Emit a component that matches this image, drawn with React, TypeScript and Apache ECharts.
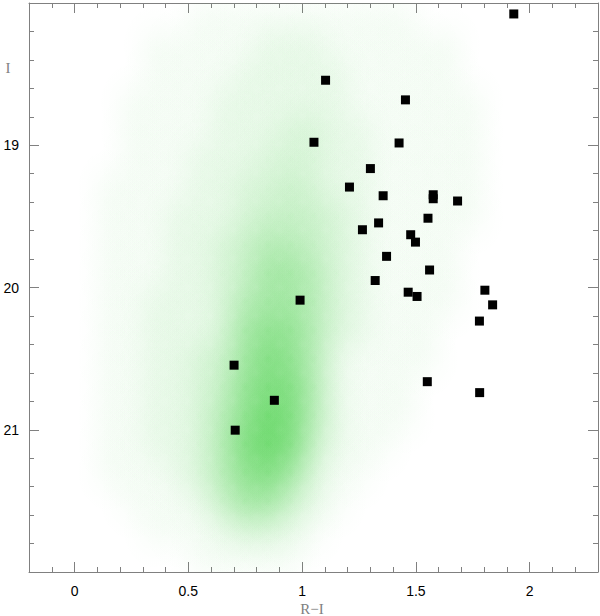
import React, { useEffect, useRef } from 'react';
import * as echarts from 'echarts';

// Black squares: R-I colour and I magnitude
const riColor = [1.930, 1.103, 1.454, 1.052, 1.426, 1.300, 1.208, 1.356, 1.576, 1.576, 1.683, 1.553, 1.336, 1.265, 1.477, 1.498, 1.371, 1.560, 1.321, 1.466, 1.505, 1.803, 0.991, 1.837, 1.779, 1.550, 1.780, 0.701, 0.878, 0.706];
const iMag = [18.077, 18.543, 18.681, 18.979, 18.984, 19.164, 19.294, 19.355, 19.348, 19.376, 19.392, 19.513, 19.546, 19.594, 19.629, 19.681, 19.781, 19.877, 19.951, 20.033, 20.063, 20.019, 20.089, 20.122, 20.236, 20.662, 20.739, 20.546, 20.793, 21.003];

// Axis ticks / labels
const xMajorTicks = [0, 0.5, 1, 1.5, 2];
const yMajorTicks = [19, 20, 21];
const X_MIN = -0.2, X_MAX = 2.3, Y_MIN = 18, Y_MAX = 22;

// Green field-star cloud, read as relative density (0-9) in cells of 0.1 (R-I) x 0.2 (I)
const CELL_DX = 0.1;
const CELL_DY = 0.2;
const cloudXStart = 0.0;
const cloudYStart = 18.0;
const cloudDensity: number[][] = [
  [0, 0, 0, 0, 0, 1, 1, 1, 1, 1, 1, 1, 1, 1, 1, 0, 0, 0, 0, 0], // 18.0
  [0, 0, 0, 1, 1, 1, 1, 1, 2, 2, 2, 1, 1, 1, 1, 1, 1, 0, 0, 0], // 18.2
  [0, 0, 0, 1, 1, 1, 1, 2, 2, 2, 2, 2, 1, 1, 1, 1, 1, 0, 0, 0], // 18.4
  [0, 0, 1, 1, 1, 1, 2, 2, 2, 2, 2, 2, 1, 1, 1, 1, 1, 1, 0, 0], // 18.6
  [0, 0, 1, 1, 1, 1, 2, 2, 2, 3, 3, 2, 2, 1, 1, 1, 1, 1, 0, 0], // 18.8
  [0, 0, 1, 1, 1, 2, 2, 2, 3, 3, 3, 2, 2, 1, 1, 1, 1, 1, 0, 0], // 19.0
  [0, 1, 1, 1, 1, 2, 2, 3, 3, 4, 3, 2, 2, 1, 1, 1, 1, 1, 0, 0], // 19.2
  [0, 1, 1, 1, 2, 2, 2, 3, 4, 4, 4, 3, 2, 1, 1, 1, 1, 1, 0, 0], // 19.4
  [0, 1, 1, 1, 2, 2, 3, 4, 5, 5, 4, 3, 2, 1, 1, 1, 1, 0, 0, 0], // 19.6
  [0, 1, 1, 1, 2, 2, 3, 4, 6, 6, 5, 3, 2, 1, 1, 1, 1, 0, 0, 0], // 19.8
  [0, 1, 1, 2, 2, 2, 3, 5, 6, 6, 5, 3, 2, 1, 1, 1, 1, 0, 0, 0], // 20.0
  [0, 1, 1, 2, 2, 2, 3, 6, 7, 7, 5, 3, 2, 1, 1, 1, 0, 0, 0, 0], // 20.2
  [0, 1, 1, 2, 2, 3, 4, 6, 8, 7, 5, 2, 1, 1, 1, 1, 0, 0, 0, 0], // 20.4
  [0, 1, 1, 2, 2, 3, 4, 7, 8, 8, 5, 2, 1, 1, 1, 0, 0, 0, 0, 0], // 20.6
  [0, 1, 1, 2, 2, 3, 5, 7, 9, 8, 5, 2, 1, 1, 1, 0, 0, 0, 0, 0], // 20.8
  [0, 1, 1, 2, 2, 3, 5, 8, 9, 8, 4, 2, 1, 1, 0, 0, 0, 0, 0, 0], // 21.0
  [0, 1, 1, 1, 2, 3, 5, 7, 8, 6, 3, 1, 1, 0, 0, 0, 0, 0, 0, 0], // 21.2
  [0, 0, 1, 1, 1, 2, 4, 6, 6, 4, 2, 1, 0, 0, 0, 0, 0, 0, 0, 0], // 21.4
  [0, 0, 0, 1, 1, 1, 2, 3, 3, 2, 1, 0, 0, 0, 0, 0, 0, 0, 0, 0], // 21.6
  [0, 0, 0, 0, 0, 1, 1, 1, 1, 1, 0, 0, 0, 0, 0, 0, 0, 0, 0, 0], // 21.8
];

const GRAY = '#808080';

function buildCloud(): number[][] {
  const out: number[][] = [];
  cloudDensity.forEach((row, r) => {
    row.forEach((d, c) => {
      if (d > 0) out.push([cloudXStart + (c + 0.5) * CELL_DX, cloudYStart + (r + 0.5) * CELL_DY, d]);
    });
  });
  return out;
}

// density level -> target opacity of the green tint
function densityAlpha(d: number): number {
  return 0.03 * d + 0.0035 * d * d;
}

function xAxisPair(position: 'bottom' | 'top', withLabels: boolean) {
  return [
    {
      type: 'value', position, min: X_MIN, max: X_MAX, interval: 0.1,
      axisLine: { show: true, onZero: false, lineStyle: { color: GRAY, width: 1 } },
      axisTick: { show: true, inside: true, length: 5, lineStyle: { color: GRAY, width: 1 } },
      axisLabel: { show: false },
      splitLine: { show: false },
    },
    {
      type: 'value', position, min: X_MIN, max: X_MAX,
      axisLine: { show: false, onZero: false },
      axisTick: { show: true, inside: true, length: 10, customValues: xMajorTicks, lineStyle: { color: GRAY, width: 1 } },
      axisLabel: withLabels
        ? { show: true, customValues: xMajorTicks, formatter: (v: number) => String(v), margin: 12, color: '#000', fontSize: 14, fontFamily: 'Liberation Sans' }
        : { show: false },
      splitLine: { show: false },
    },
  ];
}

function yAxisPair(position: 'left' | 'right', withLabels: boolean) {
  return [
    {
      type: 'value', position, min: Y_MIN, max: Y_MAX, interval: 0.2, inverse: true,
      axisLine: { show: true, onZero: false, lineStyle: { color: GRAY, width: 1 } },
      axisTick: { show: true, inside: true, length: 5, lineStyle: { color: GRAY, width: 1 } },
      axisLabel: { show: false },
      splitLine: { show: false },
    },
    {
      type: 'value', position, min: Y_MIN, max: Y_MAX, inverse: true,
      axisLine: { show: false, onZero: false },
      axisTick: { show: true, inside: true, length: 10, customValues: yMajorTicks, lineStyle: { color: GRAY, width: 1 } },
      axisLabel: withLabels
        ? { show: true, customValues: yMajorTicks, formatter: (v: number) => String(v), margin: 10, color: '#000', fontSize: 14, fontFamily: 'Liberation Sans' }
        : { show: false },
      splitLine: { show: false },
    },
  ];
}

export default function App() {
  const ref = useRef<HTMLDivElement>(null);
  useEffect(() => {
    if (!ref.current) return;
    const chart = echarts.init(ref.current, null, { renderer: 'svg' });
    const cloud = buildCloud();
    const squares = riColor.map((x, i) => [x, iMag[i]]);
    chart.setOption({
      animation: false,
      backgroundColor: '#fff',
      grid: { left: 29, top: 3, width: 569, height: 569, containLabel: false },
      xAxis: [...xAxisPair('bottom', true), ...xAxisPair('top', false)],
      yAxis: [...yAxisPair('left', true), ...yAxisPair('right', false)],
      graphic: [
        { type: 'text', x: 8, y: 68, style: { text: 'I', fill: GRAY, font: '15px "Liberation Serif"', align: 'center', verticalAlign: 'middle' } },
        { type: 'text', x: 312, y: 609, style: { text: 'R\u2212I', fill: GRAY, font: '15px "Liberation Serif"', align: 'center', verticalAlign: 'middle' } },
      ],
      series: [
        {
          type: 'custom',
          name: 'field',
          xAxisIndex: 0, yAxisIndex: 0,
          clip: true,
          silent: true,
          data: cloud,
          renderItem: (params: any, api: any) => {
            const c = api.coord([api.value(0), api.value(1)]);
            const s = api.size([CELL_DX, CELL_DY]);
            const w = Math.abs(s[0]) * 3.2;
            const h = Math.abs(s[1]) * 3.2;
            const a = Math.min(1, densityAlpha(api.value(2)) / 1.7);
            const col = (k: number) => `rgba(0,190,0,${(a * k).toFixed(4)})`;
            return {
              type: 'rect',
              shape: { x: c[0] - w / 2, y: c[1] - h / 2, width: w, height: h },
              style: {
                fill: new echarts.graphic.RadialGradient(0.5, 0.5, 0.5, [
                  { offset: 0, color: col(1) },
                  { offset: 0.25, color: col(0.82) },
                  { offset: 0.5, color: col(0.45) },
                  { offset: 0.75, color: col(0.14) },
                  { offset: 1, color: col(0) },
                ]),
              },
            };
          },
        },
        {
          type: 'scatter',
          name: 'stars',
          xAxisIndex: 0, yAxisIndex: 0,
          symbol: 'rect',
          symbolSize: 9,
          itemStyle: { color: '#000', opacity: 1 },
          data: squares,
          z: 5,
        },
      ],
    });
    return () => chart.dispose();
  }, []);
  return <div ref={ref} style={{ position: 'absolute', left: 0, top: 0, width: 600, height: 616 }} />;
}
